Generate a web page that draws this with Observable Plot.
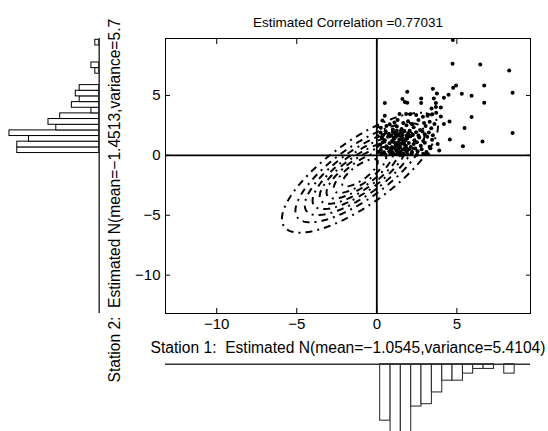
<!DOCTYPE html>
<html><head><meta charset="utf-8">
<script src="https://cdn.jsdelivr.net/npm/d3@7"></script>
<script src="https://cdn.jsdelivr.net/npm/@observablehq/plot@0.6"></script>
<style>
body{margin:0;background:#fff;}
#chart{position:relative;width:548px;height:431px;overflow:hidden;background:#fff;font-family:"Liberation Sans",Arial,sans-serif;}
#chart svg{position:absolute;left:0;top:0;}
</style></head><body><div id="chart"></div>
<script>
// ---- data ----
const titleText = "Estimated Correlation =0.77031";
const xLabelText = "Station 1:  Estimated N(mean=\u22121.0545,variance=5.4104)";
const yLabelText = "Station 2:  Estimated N(mean=\u22121.4513,variance=5.7";
const xDomain = [-13.2, 9.6];
const yDomain = [-13.2, 9.75];
const xTicks = [-10, -5, 0, 5];
const yTicks = [-10, -5, 0, 5];

// estimated bivariate normal (from the labels)
const meanXY = [-1.0545, -1.4513];
const varianceXY = [5.4104, 5.7];
const correlation = 0.77031;
// density levels of the contour lines
const contourLevels = [0.005, 0.01, 0.015, 0.02, 0.025, 0.03, 0.035, 0.04];

// observed pairs (station 1, station 2)
const observed = [
[4.75,9.62],[4.73,7.64],[6.46,7.58],[8.27,7.08],[6.71,5.83],[4.95,5.83],[4.77,5.64],[3.5,5.55],[8.48,5.22],[5.31,5.14],
[5.92,4.97],[4.48,5.06],[3.75,5.17],[1.9,5.3],[4.19,4.81],[1.6,4.7],[1.75,4.45],[2.77,4.75],[3.56,4.75],[6.71,4.38],
[0.5,4.36],[1.9,4.38],[2.77,4.36],[3.69,4.36],[3.69,4.03],[4.0,4.0],[3.42,3.9],[3.71,3.55],[5.92,3.19],[4.0,3.25],
[0.5,3.3],[1.42,3.45],[1.83,3.45],[2.08,3.42],[2.46,3.36],[2.88,3.22],[3.17,3.3],[3.46,3.42],[4.54,2.83],[4.19,2.61],
[5.48,2.28],[8.48,1.86],[4.56,1.33],[6.6,1.16],[5.38,0.75],
[0.35,2.9],[0.8,2.6],[1.1,2.75],[1.3,2.95],[1.65,2.7],[1.95,2.85],[2.2,2.6],[2.6,2.95],[2.95,2.7],[3.3,2.8],[3.6,2.62],
[0.25,2.3],[0.6,2.45],[1.0,2.15],[1.25,2.4],[1.55,2.2],[1.85,2.5],[2.3,2.35],[2.7,2.12],[3.05,2.45],[3.4,2.25],
[0.23,1.9],[0.4,1.7],[0.55,2.02],[0.75,1.8],[0.9,1.65],[1.0,1.95],[1.15,1.75],[1.25,2.05],[1.35,1.68],[1.5,1.88],
[1.6,1.72],[1.72,2.0],[1.85,1.63],[1.95,1.85],[2.05,2.06],[2.25,1.7],[2.45,1.92],[2.6,1.66],[2.85,1.98],[3.0,1.75],
[3.25,1.9],[3.5,1.67],
[0.3,1.5],[0.5,1.25],[0.7,1.55],[0.95,1.2],[1.1,1.4],[1.2,1.58],[1.4,1.3],[1.55,1.52],[1.7,1.18],[1.9,1.42],
[2.1,1.6],[2.35,1.25],[2.65,1.48],[2.9,1.2],[3.15,1.55],[3.45,1.3],
[0.22,0.9],[0.38,1.1],[0.6,0.75],[0.8,1.0],[0.95,0.7],[1.05,1.12],[1.18,0.88],[1.3,1.05],[1.45,0.72],[1.58,0.98],
[1.7,1.12],[1.82,0.8],[2.0,1.02],[2.12,0.7],[2.3,0.95],[2.5,1.1],[2.75,0.8],[3.0,1.05],[3.3,0.72],[3.8,0.95],
[0.25,0.45],[0.45,0.25],[0.62,0.6],[0.78,0.35],[0.92,0.52],[1.0,0.22],[1.12,0.62],[1.22,0.4],[1.35,0.55],[1.48,0.28],
[1.6,0.48],[1.75,0.62],[1.88,0.3],[2.02,0.5],[2.2,0.24],[2.4,0.58],[2.55,0.35],[2.8,0.5],[3.1,0.28],[3.35,0.6],[3.9,0.4],
[0.3,0.1],[0.55,0.05],[0.85,0.15],[1.05,0.08],[1.25,0.12],[1.45,0.03],[1.65,0.16],[1.9,0.06],[2.15,0.12],[2.5,0.04],
[2.9,0.14],[3.2,0.08],
[0.88,0.42],[1.15,1.9],[1.3,0.3],[1.4,1.0],[1.05,1.45],[1.22,0.78],[1.35,1.75],[0.98,0.12],[1.62,1.25],[1.8,0.45],
[2.0,1.7],[1.7,0.95],[1.55,0.05],
[0.05,0.8],[0.06,1.6],[0.04,2.4],[0.08,0.3]
];

// marginal histogram of station 2 (left), bins from bottom
const yBinEdges = [0.19,0.66,1.14,1.61,2.08,2.55,3.03,3.50,3.97,4.44,4.92,5.39,5.86,6.33,6.81,7.28,7.75,8.22,8.70,9.17,9.64];
const yBinCounts = [21,21,18,23,11,13,10,2,7,5,6,5,0,0,1,2,0,0,0,1];
// marginal histogram of station 1 (bottom), bins from left
const xBinEdges = [0.21,0.86,1.50,2.15,2.79,3.44,4.09,4.73,5.38,6.02,6.67,7.32,7.96,8.61];
const xBinCounts = [24,36,36,18,17,12,7,7,4,2,2,0,4];

// ---- build ----
const sx = Math.sqrt(varianceXY[0]), sy = Math.sqrt(varianceXY[1]);
const norm = 1 / (2 * Math.PI * sx * sy * Math.sqrt(1 - correlation * correlation));
const density = (x, y) => {
  const zx = (x - meanXY[0]) / sx, zy = (y - meanXY[1]) / sy;
  return norm * Math.exp(-(zx * zx - 2 * correlation * zx * zy + zy * zy) / (2 * (1 - correlation * correlation)));
};
const yHist = yBinCounts.map((n, i) => ({lo: yBinEdges[i], hi: yBinEdges[i + 1], n}));
const xHist = xBinCounts.map((n, i) => ({lo: xBinEdges[i], hi: xBinEdges[i + 1], n}));
const font = "Liberation Sans, Arial, sans-serif";

const leftHist = Plot.plot({
  width: 110, height: 431, marginLeft: 0, marginRight: 11.3, marginTop: 38, marginBottom: 118,
  style: {background: "transparent"},
  x: {domain: [0, 25.3], reverse: true, axis: null},
  y: {domain: yDomain, axis: null},
  marks: [
    Plot.rect(yHist, {x1: 0, x2: "n", y1: "lo", y2: "hi", fill: "white", stroke: "black", strokeWidth: 1}),
    Plot.ruleX([0], {stroke: "#333", strokeWidth: 1.5})
  ]
});

const bottomHist = Plot.plot({
  width: 548, height: 431, marginLeft: 165, marginRight: 18, marginTop: 363.7, marginBottom: 0,
  style: {background: "transparent"},
  x: {domain: xDomain, axis: null},
  y: {domain: [0, 28.6], reverse: true, axis: null},
  marks: [
    Plot.rect(xHist, {x1: "lo", x2: "hi", y1: 0, y2: "n", fill: "white", stroke: "#222", strokeWidth: 1}),
    Plot.ruleY([0], {stroke: "#333", strokeWidth: 1.5})
  ]
});

const main = Plot.plot({
  width: 548, height: 431,
  marginLeft: 165, marginRight: 18, marginTop: 38, marginBottom: 118,
  style: {background: "transparent", fontFamily: font, fontSize: "15px", color: "black"},
  x: {domain: xDomain},
  y: {domain: yDomain},
  marks: [
    Plot.contour({value: density, x1: xDomain[0], x2: xDomain[1], y1: yDomain[0], y2: yDomain[1],
      thresholds: contourLevels, stroke: "black", fill: "none", strokeWidth: 2, strokeDasharray: "7,5,2,5"}),
    Plot.ruleY([0], {stroke: "black", strokeWidth: 1.6}),
    Plot.ruleX([0], {stroke: "black", strokeWidth: 1.8}),
    Plot.dot(observed, {x: d => d[0], y: d => d[1], r: 2, fill: "black", stroke: "none"}),
    Plot.frame({stroke: "black"}),
    Plot.axisX(xTicks, {anchor: "bottom", tickSize: -5, tickPadding: 10, label: null}),
    Plot.axisX(xTicks, {anchor: "top", tickSize: -5, tickFormat: () => "", label: null}),
    Plot.axisY(yTicks, {anchor: "left", tickSize: -5, tickPadding: 10, label: null}),
    Plot.axisY(yTicks, {anchor: "right", tickSize: -5, tickFormat: () => "", label: null}),
    Plot.text([titleText], {text: d => d, frameAnchor: "top", dy: -12, lineAnchor: "bottom", fontSize: 13.5}),
    Plot.text([xLabelText], {text: d => d, frameAnchor: "bottom", dy: 39, lineAnchor: "bottom", fontSize: 15.6}),
    Plot.text([yLabelText], {text: d => d, frameAnchor: "bottom-left", dx: -46, dy: 69, rotate: -90, textAnchor: "start", fontSize: 15.6})
  ]
});

const chart = document.getElementById("chart");
chart.append(leftHist, bottomHist, main);
</script></body></html>
